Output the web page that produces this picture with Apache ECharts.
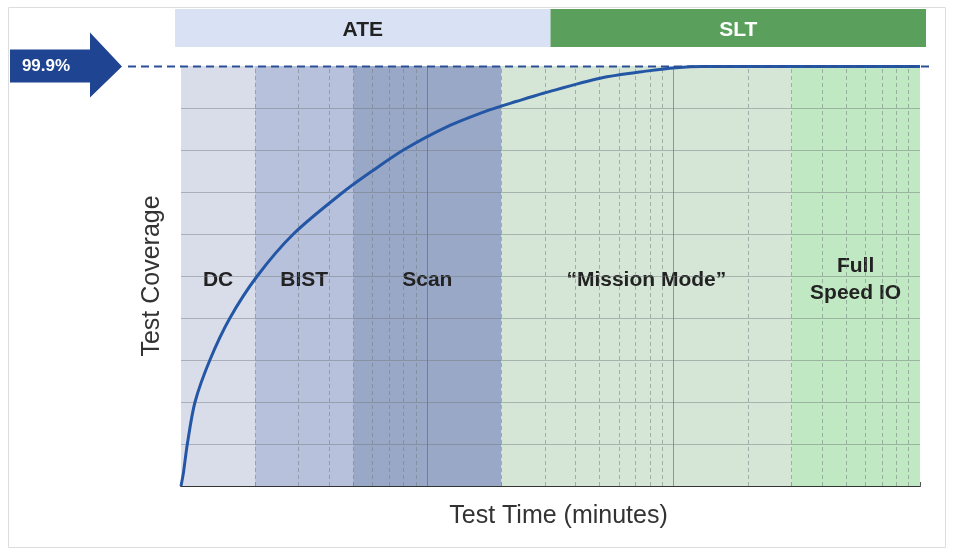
<!DOCTYPE html>
<html>
<head>
<meta charset="utf-8">
<script src="https://cdn.jsdelivr.net/npm/echarts@6/dist/echarts.min.js"></script>
<style>
  html, body { margin: 0; padding: 0; background: #fff; }
  #chart { width: 963px; height: 558px; }
</style>
</head>
<body>
<div id="chart"></div>
<script>
// coverage curve, test time in minutes (log) vs coverage %
var timeValues = [1, 1.022, 1.061, 1.14, 1.31, 1.58, 2.04, 2.86, 4.56, 6.04, 8.0, 12.0, 18.0, 23.1, 29.6, 50.3, 80.2, 102, 130, 1000];
var coverageValues = [0, 3, 10, 20, 30, 40, 50, 60, 70, 75.2, 80, 85.5, 89.6, 91.6, 93.5, 97.1, 98.9, 99.6, 99.9, 99.9];

// test phases along the time axis
var phaseNames = ['DC', 'BIST', 'Scan', '\u201cMission Mode\u201d', 'Full\nSpeed IO'];
var phaseStarts = [1, 2, 5, 20, 300];
var phaseEnds = [2, 5, 20, 300, 1000];
var phaseColors = ['#d9dde9', '#b8c1dc', '#9aa8c8', '#d5e5d6', '#c0e8c3'];

// tester groups shown in the header band
var testerNames = ['ATE', 'SLT'];
var testerColors = ['#d9e2f4', '#5b9f5d'];
var testerTextColors = ['#222222', '#ffffff'];

var minorTimes = [2, 3, 4, 5, 6, 7, 8, 9, 20, 30, 40, 50, 60, 70, 80, 90, 200, 300, 400, 500, 600, 700, 800, 900];
var majorTimes = [10, 100];
var tickTimes = [1, 2, 3, 4, 5, 6, 7, 8, 9, 10, 20, 30, 40, 50, 60, 70, 80, 90, 100, 200, 300, 400, 500, 600, 700, 800, 900, 1000];
var coverageLines = [10, 20, 30, 40, 50, 60, 70, 80, 90];
var targetCoverage = 99.9;

var chart = echarts.init(document.getElementById('chart'));

var gridLineStyle = { color: 'rgba(110,120,120,0.45)', width: 1, type: 'solid' };

var phaseAreas = phaseNames.map(function (name, i) {
    return [{
        name: name,
        xAxis: phaseStarts[i],
        itemStyle: { color: phaseColors[i] }
    }, {
        xAxis: phaseEnds[i]
    }];
});

var testerAreas = testerNames.map(function (name, i) {
    return [{
        name: name,
        xAxis: i,
        itemStyle: { color: testerColors[i] },
        label: { color: testerTextColors[i] }
    }, {
        xAxis: i + 1
    }];
});

var gridMarks = [];
minorTimes.forEach(function (t) {
    gridMarks.push({ xAxis: t, lineStyle: { color: 'rgba(110,120,120,0.5)', type: [4, 3], width: 1 } });
});
majorTimes.forEach(function (t) {
    gridMarks.push({ xAxis: t, lineStyle: { color: 'rgba(90,100,100,0.6)', type: 'solid', width: 1 } });
});
coverageLines.forEach(function (c) {
    gridMarks.push({ yAxis: c, lineStyle: gridLineStyle });
});

var option = {
    animation: false,
    grid: [
        { left: 181, right: 43, top: 66, bottom: 72 },
        { left: 175, right: 37, top: 9, height: 38 }
    ],
    xAxis: [{
        type: 'log',
        gridIndex: 0,
        min: 1,
        max: 1000,
        logBase: 10,
        name: 'Test Time (minutes)',
        nameLocation: 'middle',
        nameGap: 18,
        nameTextStyle: { fontFamily: 'Liberation Sans', fontSize: 25, color: '#333', padding: [0, 0, 0, 16] },
        axisLine: { show: true, lineStyle: { color: '#333', width: 2 } },
        axisTick: { show: true, inside: true, length: 4, customValues: tickTimes, lineStyle: { color: '#555' } },
        axisLabel: { show: false },
        splitLine: { show: false },
        minorTick: { show: false }
    }, {
        type: 'value',
        gridIndex: 1,
        min: 0,
        max: 2,
        show: false
    }],
    yAxis: [{
        type: 'value',
        gridIndex: 0,
        min: 0,
        max: 100,
        interval: 10,
        name: 'Test Coverage',
        nameLocation: 'middle',
        nameGap: 16,
        nameTextStyle: { fontFamily: 'Liberation Sans', fontSize: 25, color: '#333' },
        axisLine: { show: true, lineStyle: { color: 'rgba(110,120,120,0.5)' } },
        axisTick: { show: false },
        axisLabel: { show: false },
        splitLine: { show: false }
    }, {
        type: 'value',
        gridIndex: 1,
        min: 0,
        max: 1,
        show: false
    }],
    series: [{
        name: 'phases',
        type: 'line',
        xAxisIndex: 0,
        yAxisIndex: 0,
        data: [],
        z: 1,
        silent: true,
        markArea: {
            silent: true,
            label: {
                show: true,
                position: 'inside',
                offset: [0, 4],
                fontFamily: 'Liberation Sans',
                fontWeight: 'bold',
                fontSize: 21,
                lineHeight: 27,
                color: '#222'
            },
            data: phaseAreas
        }
    }, {
        name: 'gridlines',
        type: 'line',
        xAxisIndex: 0,
        yAxisIndex: 0,
        data: [],
        z: 2,
        silent: true,
        markLine: {
            silent: true,
            symbol: 'none',
            label: { show: false },
            data: gridMarks
        }
    }, {
        name: 'coverage',
        type: 'line',
        xAxisIndex: 0,
        yAxisIndex: 0,
        data: timeValues.map(function (t, i) { return [t, coverageValues[i]]; }),
        smooth: 0.3,
        showSymbol: false,
        z: 5,
        lineStyle: { color: '#2456a6', width: 3 }
    }, {
        name: 'testers',
        type: 'line',
        xAxisIndex: 1,
        yAxisIndex: 1,
        data: [],
        silent: true,
        markArea: {
            silent: true,
            label: {
                show: true,
                position: 'inside',
                offset: [0, 2],
                fontFamily: 'Liberation Sans',
                fontWeight: 'bold',
                fontSize: 21
            },
            data: testerAreas
        }
    }]
};

chart.setOption(option);

// target line and arrow, placed from the coverage axis
var yTarget = chart.convertToPixel({ yAxisIndex: 0 }, targetCoverage);
chart.setOption({
    graphic: [{
        type: 'rect',
        shape: { x: 8.5, y: 7.5, width: 937, height: 540 },
        style: { fill: 'none', stroke: '#dddddd', lineWidth: 1 },
        z: 0
    }, {
        type: 'line',
        shape: { x1: 128, y1: yTarget, x2: 933, y2: yTarget },
        style: { stroke: '#2a4f96', lineWidth: 2, lineDash: [8, 5] },
        z: 10
    }, {
        type: 'polygon',
        shape: {
            points: [[10, yTarget - 17], [90, yTarget - 17], [90, yTarget - 34], [122, yTarget],
                     [90, yTarget + 31], [90, yTarget + 16], [10, yTarget + 16]]
        },
        style: { fill: '#1f4491' },
        z: 10
    }, {
        type: 'text',
        x: 46,
        y: yTarget,
        style: {
            text: targetCoverage + '%',
            fill: '#ffffff',
            font: 'bold 17px "Liberation Sans"',
            align: 'center',
            verticalAlign: 'middle'
        },
        z: 11
    }]
});
</script>
</body>
</html>
